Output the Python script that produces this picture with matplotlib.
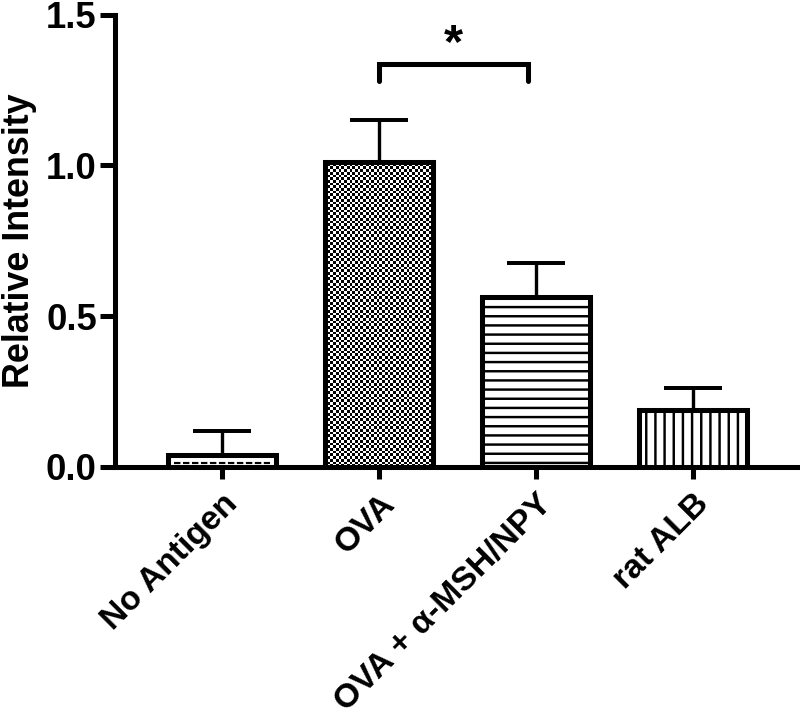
import numpy as np
import matplotlib.pyplot as plt

plt.rcParams['font.family'] = ['Liberation Sans', 'DejaVu Sans']
plt.rcParams['font.weight'] = 'bold'
plt.rcParams['hatch.linewidth'] = 1.6

# data
groups = ['No Antigen', 'OVA', 'OVA + α-MSH/NPY', 'rat ALB']
means = [0.04, 1.013, 0.565, 0.19]
sem = [0.078, 0.137, 0.113, 0.072]
sig_label = '*'

DPI = 110
fig = plt.figure(figsize=(800 / DPI, 719 / DPI), dpi=DPI)
ax = fig.add_axes([0.144, 0.3505, 0.856, 0.629])

x = np.arange(len(groups))
width = 0.69
bars = ax.bar(x, means, width=width, color='white', edgecolor='black',
              linewidth=3.3, zorder=3)
bars[2].set_hatch('--')
bars[3].set_hatch('||')

ax.errorbar(x, means, yerr=[np.zeros(len(sem)), sem], fmt='none',
            ecolor='black', elinewidth=2.2, capsize=19, capthick=2.6, zorder=4)

# checkerboard fill for OVA bar
b = bars[1]
ncols = 40
nrows = int(round(ncols * (means[1] * 301) / (width * 157)))
checker = (np.add.outer(np.arange(nrows), np.arange(ncols)) % 2).astype(float)
im = ax.imshow(checker, cmap='gray', interpolation='nearest', aspect='auto',
               extent=(x[1] - width / 2, x[1] + width / 2, 0, means[1]),
               zorder=2.5)
im.set_clip_path(b)
b.set_facecolor('none')
ax.set_xlim(-0.68, 3.68)
ax.set_ylim(0, 1.5)

# dashed pattern in the no antigen bar
ax.plot([x[0] - width / 2 + 0.04, x[0] + width / 2 - 0.04],
        [means[0] * 0.3, means[0] * 0.3], color='black', lw=1.4,
        dashes=(3, 1.2), zorder=3.5)

# significance bracket
y_br = 1.335
x_l = x[1]
x_r = x[2] - 0.05
ax.plot([x_l, x_l, x_r, x_r], [y_br - 0.056, y_br, y_br, y_br - 0.056],
        color='black', lw=3.3, solid_capstyle='round', solid_joinstyle='miter')
ax.text((x_l + x_r) / 2, y_br - 0.01, sig_label, ha='center', va='bottom',
        fontsize=32, fontweight='bold')

for s in ['top', 'right']:
    ax.spines[s].set_visible(False)
for s in ['left', 'bottom']:
    ax.spines[s].set_linewidth(3.3)

ax.set_yticks([0.0, 0.5, 1.0, 1.5])
ax.set_yticklabels(['0.0', '0.5', '1.0', '1.5'])
ax.set_xticks(x)
ax.set_xticklabels(groups, rotation=45, ha='right', rotation_mode='anchor')
ax.tick_params(axis='y', length=10, width=3.3, labelsize=24, pad=2)
ax.tick_params(axis='x', length=8, width=3.3, labelsize=22, pad=6)
ax.set_ylabel('Relative Intensity', fontsize=23.5, fontweight='bold', labelpad=6)

fig.savefig('out.png', dpi=DPI)
